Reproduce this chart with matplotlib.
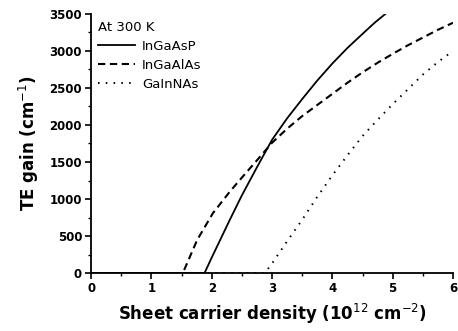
import matplotlib
matplotlib.use("Agg")
import matplotlib.pyplot as plt
import numpy as np

plt.rcParams['font.family'] = ['DejaVu Sans']

# sheet carrier density (1e12 cm^-2) and TE gain (cm^-1)
n_ingaasp = [0.0, 1.88, 2.0, 2.3, 2.5, 2.75, 3.0, 3.25, 3.5, 3.75, 4.0, 4.25, 4.5, 4.7, 4.88]
g_ingaasp = [0, 0, 210, 720, 1050, 1430, 1800, 2090, 2350, 2600, 2830, 3040, 3230, 3380, 3500]

n_ingaalas = [0.0, 1.52, 1.76, 2.02, 2.3, 2.5, 2.8, 3.0, 3.25, 3.5, 3.75, 4.0,
              4.25, 4.5, 4.75, 5.0, 5.25, 5.5, 5.75, 6.0]
g_ingaalas = [0, 0, 450, 810, 1100, 1290, 1570, 1760, 1950, 2120, 2270, 2420,
              2570, 2710, 2840, 2960, 3075, 3180, 3285, 3380]

n_gainnas = [0.0, 2.88, 3.0, 3.25, 3.5, 3.75, 4.0, 4.25, 4.5, 4.75, 5.0, 5.25, 5.5, 5.75, 6.0]
g_gainnas = [0, 0, 130, 430, 720, 1030, 1320, 1590, 1850, 2070, 2280, 2480, 2680, 2850, 3000]

labels = ['InGaAsP', 'InGaAlAs', 'GaInNAs']

fig = plt.figure(figsize=(4.58, 3.31), dpi=100)
ax = fig.add_axes([0.199, 0.175, 0.79, 0.783])

ax.plot(n_ingaasp, g_ingaasp, color='black', lw=1.3, ls='-', label=labels[0])
ax.plot(n_ingaalas, g_ingaalas, color='black', lw=1.5, ls=(0, (3.5, 2.2)), label=labels[1])
ax.plot(n_gainnas, g_gainnas, color='black', lw=1.4, ls=(0, (0.8, 3.2)), label=labels[2])

ax.set_xlim(0, 6)
ax.set_ylim(0, 3500)
ax.set_xticks(np.arange(0, 7, 1))
ax.set_xticks(np.arange(0, 6.01, 0.5), minor=True)
ax.set_yticks(np.arange(0, 3501, 500))
ax.set_yticks(np.arange(0, 3501, 250), minor=True)

for s in ['top', 'right']:
    ax.spines[s].set_visible(False)
for s in ['left', 'bottom']:
    ax.spines[s].set_linewidth(1.3)

ax.tick_params(which='major', direction='out', length=4, width=1.2, labelsize=8.5, pad=2.5)
ax.tick_params(which='minor', direction='out', length=2.5, width=1.0)
for lab in ax.get_xticklabels() + ax.get_yticklabels():
    lab.set_fontweight('bold')

ax.set_xlabel('Sheet carrier density (10$^{12}$ cm$^{-2}$)', fontsize=12, fontweight='bold', labelpad=5)
ax.set_ylabel('TE gain (cm$^{-1}$)', fontsize=12, fontweight='bold', labelpad=6)

leg = ax.legend(title='At 300 K', loc='upper left', frameon=False, fontsize=9.5,
                title_fontsize=9.5, handlelength=2.8, handletextpad=0.5,
                labelspacing=0.45, borderaxespad=0.2, borderpad=0.35)
leg._legend_box.align = 'left'

fig.savefig('out.png', dpi=100)
